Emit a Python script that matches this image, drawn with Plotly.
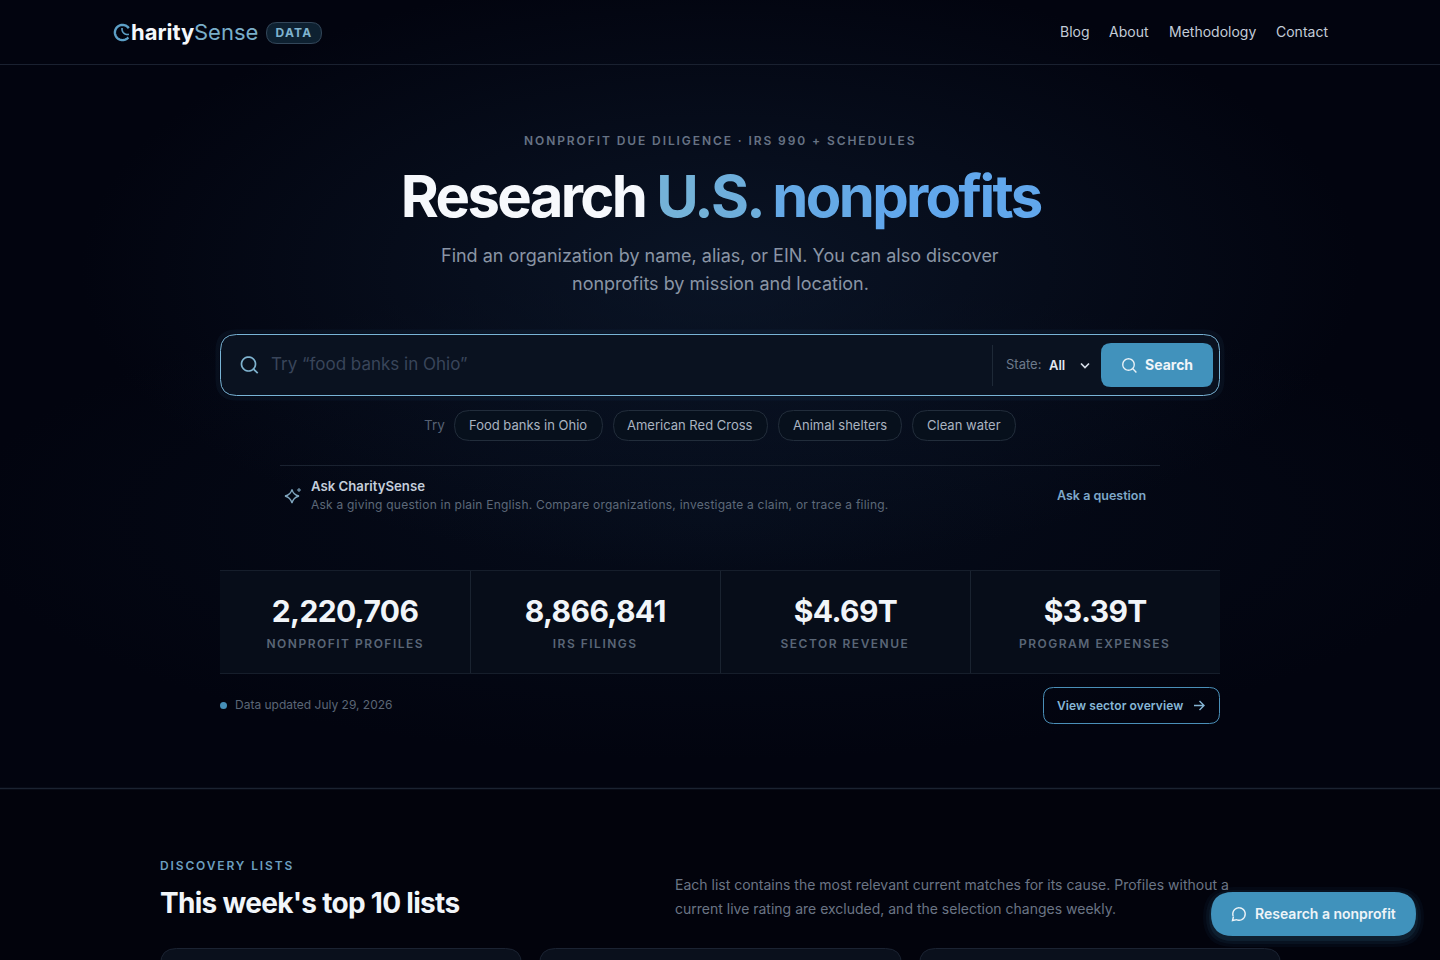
import json, math
import plotly.graph_objects as go

FONT = "Inter"
nav_links = ["Blog", "About", "Methodology", "Contact"]
nav_x = [1060, 1109, 1169, 1276]
chips = ["Food banks in Ohio", "American Red Cross", "Animal shelters", "Clean water"]
chip_left = [454.5, 613.5, 778.5, 912.5]
chip_right = [602.5, 767.5, 901.5, 1015.5]
stat_values = ["2,220,706", "8,866,841", "$4.69T", "$3.39T"]
stat_labels = ["NONPROFIT PROFILES", "IRS FILINGS", "SECTOR REVENUE", "PROGRAM EXPENSES"]
stat_centers = [345, 595, 845, 1095]

shapes, anns, spacing = [], [], []


def text(x, y, s, size, color, weight=400, anchor="left", ls=0):
    anns.append(dict(x=x, y=y - 1, xref="x", yref="y", text=s, showarrow=False,
                     xanchor=anchor, yanchor="middle", align=anchor,
                     borderpad=0, borderwidth=0,
                     font=dict(family=FONT, size=size, color=color, weight=weight)))
    spacing.append(ls)


def rrect(x0, y0, x1, y1, r):
    return (f"M{x0+r},{y0} L{x1-r},{y0} Q{x1},{y0} {x1},{y0+r} L{x1},{y1-r} Q{x1},{y1} {x1-r},{y1} "
            f"L{x0+r},{y1} Q{x0},{y1} {x0},{y1-r} L{x0},{y0+r} Q{x0},{y0} {x0+r},{y0} Z")


def box(x0, y0, x1, y1, r, fill="rgba(0,0,0,0)", line="rgba(0,0,0,0)", w=1):
    shapes.append(dict(type="path", xref="x", yref="y", path=rrect(x0, y0, x1, y1, r),
                       fillcolor=fill, line=dict(color=line, width=w), layer="above"))


def stroke(path, color, w=1.5, fill="rgba(0,0,0,0)"):
    shapes.append(dict(type="path", xref="x", yref="y", path=path, fillcolor=fill,
                       line=dict(color=color, width=w), layer="above"))


def hline(x0, x1, y, color, w=1):
    stroke(f"M{x0},{y} L{x1},{y}", color, w)


def arc(cx, cy, r, a0, a1, n=40):
    pts = []
    for i in range(n + 1):
        a = math.radians(a0 + (a1 - a0) * i / n)
        pts.append((cx + r * math.cos(a), cy + r * math.sin(a)))
    return "M" + " L".join(f"{x:.2f},{y:.2f}" for x, y in pts)


def search_icon(cx, cy, r, color, w):
    stroke(arc(cx, cy, r, 0, 360), color, w)
    d = r * 0.72
    stroke(f"M{cx+d},{cy+d} L{cx+r+2.2},{cy+r+2.2}", color, w)


# header
hline(0, 1440, 64.5, "#1a2130")
stroke(arc(122.5, 32.5, 7.6, 40, 325), "#5c9fc6", 2.4)
stroke(arc(127.5, 29, 5.5, 75, 190, 14), "#5c9fc6", 1.6)
text(131, 33, "harity", 22, "#f4f7fb", 700)
text(194, 33, "Sense", 22, "#79aec9", 400)
box(266.5, 22.5, 321.5, 43.5, 10.5, "#0e2131", "#33475a")
text(293.7, 33.8, "DATA", 12, "#7fb3cf", 700, "center", 1.2)
for s, x in zip(nav_links, nav_x):
    text(x, 32, s, 14, "#c3ccd8", 400, "left", 0)

# hero
text(720, 141, "NONPROFIT DUE DILIGENCE · IRS 990 + SCHEDULES", 12, "#677385", 600, "center", 1.91)
heading = ('<span style="color:#f6f8fc">Research</span> '
           '<span style="color:#74b2d8">U.</span><span style="color:#6eaedb">S.</span> '
           '<span style="color:#65a9e6">non</span><span style="color:#61a7ec">profits</span>')
text(720, 197, heading, 58, "#f6f8fc", 700, "center", -2.65)
text(720, 256, "Find an organization by name, alias, or EIN. You can also discover", 18, "#8a95a5", 400, "center", 0)
text(720, 284, "nonprofits by mission and location.", 18, "#8a95a5", 400, "center", 0)

# search box
box(217.5, 331.5, 1222.5, 398.5, 19, "rgba(0,0,0,0)", "rgba(90,160,205,0.06)", 4)
box(220.5, 334.5, 1219.5, 395.5, 16, "#0a1220", "#79b4d6", 1)
search_icon(248.5, 364, 7, "#7fb3cf", 1.7)
text(271, 365, "Try “food banks in Ohio”", 17, "#39455a", 400)
stroke("M992.5,345 L992.5,386", "#1e2937", 1)
text(1006, 365, "State:", 13, "#6d7a8b", 400)
text(1049, 366, "All", 13, "#e2e8f0", 600)
stroke("M1081,363.5 L1085,367.5 L1089,363.5", "#d6dee8", 1.7)
box(1101, 343, 1213, 387, 10, "#4192bc")
search_icon(1128.5, 364.5, 5.7, "#eaf2f7", 1.4)
text(1145, 365.5, "Search", 14, "#f1f5f9", 700)

# try chips
text(424, 426, "Try", 13.5, "#566173", 400)
for s, x0, x1 in zip(chips, chip_left, chip_right):
    box(x0, 410.5, x1, 440.5, 15, "#07101c", "#222d3b")
    text((x0 + x1) / 2 - 0.5, 426, s, 13, "#aab4c1", 400, "center")

# ask row
hline(280, 1160, 465.5, "#1a2230")
stroke("M292,489.5 Q293.3,495 299,496 Q293.3,497.5 292,503 Q290.5,497.5 285,496 Q290.5,495 292,489.5 Z", "#7fa6bf", 1.3)
stroke("M299,488 L299,492 M297,490 L301,490", "#7fa6bf", 1)
text(311, 487, "Ask CharitySense", 13.2, "#c4cedb", 600)
text(311, 505, "Ask a giving question in plain English. Compare organizations, investigate a claim, or trace a filing.", 12, "#5d6979", 400, "left", 0.22)
text(1146, 496.5, "Ask a question", 12.5, "#7fa8c9", 600, "right")

# stats
box(220, 570.5, 1220, 673.5, 0, "#070d19")
hline(220, 1220, 570.5, "#161e2b")
hline(220, 1220, 673.5, "#161e2b")
for x in (470.5, 720.5, 970.5):
    stroke(f"M{x},571 L{x},673", "#1a2330", 1)
for v, l, x in zip(stat_values, stat_labels, stat_centers):
    text(x, 611.5, v, 30, "#f1f5f9", 700, "center", -0.6)
    text(x, 644, l, 12, "#5a6677", 600, "center", 1.5)

# data updated
shapes.append(dict(type="circle", xref="x", yref="y", x0=220, x1=227, y0=702, y1=709,
                   fillcolor="#458fb8", line=dict(width=0), layer="above"))
text(235, 705, "Data updated July 29, 2026", 12, "#5b6676", 400)
box(1043.5, 687.5, 1219.5, 723.5, 10, "rgba(0,0,0,0)", "#4a8fb8")
text(1057, 706.5, "View sector overview", 12, "#86b6d6", 600, "left", 0.07)
stroke("M1194,705.5 L1204,705.5 M1199.5,701 L1204,705.5 L1199.5,710", "#86b6d6", 1.4)

# section
hline(0, 1440, 788.5, "#1b2331", 1.5)
text(160, 866, "DISCOVERY LISTS", 12, "#6c9fc0", 600, "left", 1.87)
text(160, 903.5, "This week's top 10 lists", 28, "#f1f5f9", 700, "left", -0.7)
text(675, 885, "Each list contains the most relevant current matches for its cause. Profiles without a", 14, "#6b7585", 400, "left", 0)
text(675, 909, "current live rating are excluded, and the selection changes weekly.", 14, "#6b7585", 400, "left", 0)
for x0, x1 in ((160.5, 521.5), (539.5, 901.5), (919.5, 1280.5)):
    box(x0, 948.5, x1, 985, 16, "#0a101c", "#1b2332")

# floating button
for g, a in ((8, 0.05), (5, 0.07), (2, 0.10)):
    box(1211 - g, 892 - g + 3, 1416 + g, 936 + g + 3, 22 + g, f"rgba(65,146,188,{a})")
box(1211, 892, 1416, 936, 22, "#4092bc")
stroke(arc(1239, 914, 6.2, -200, 110), "#eef4f8", 1.4)
stroke("M1233.5,916.5 L1232.5,920.5 L1237,919.6", "#eef4f8", 1.4)
text(1255, 914.5, "Research a nonprofit", 14, "#eef4f8", 600)

fig = go.Figure(go.Scatter(x=[], y=[]))
fig.update_layout(
    width=1440, height=960, autosize=False, margin=dict(l=0, r=0, t=0, b=0, pad=0),
    paper_bgcolor="rgba(0,0,0,0)", plot_bgcolor="rgba(0,0,0,0)", showlegend=False,
    xaxis=dict(range=[0, 1440], visible=False, fixedrange=True),
    yaxis=dict(range=[960, 0], visible=False, fixedrange=True),
    shapes=shapes, annotations=anns,
)

post = """
document.documentElement.style.background='#02040f';
document.body.style.margin='0';
document.body.style.overflow='hidden';
document.body.style.background=
 'radial-gradient(ellipse 640px 300px at 720px 270px, rgba(16,32,54,0.58), rgba(16,32,54,0) 100%),' +
 'radial-gradient(ellipse 760px 240px at 720px 520px, rgba(10,22,40,0.45), rgba(10,22,40,0) 100%),' +
 'linear-gradient(#02040f 0, #02040f 789px, #02030c 789px)';
var LS = __LS__;
document.querySelectorAll('.annotation').forEach(function(a){
  var i = +a.getAttribute('data-index');
  if (LS[i]) { a.querySelectorAll('text').forEach(function(t){ t.style.letterSpacing = LS[i] + 'px'; }); }
});
""".replace("__LS__", json.dumps(spacing))

fig.write_html("out.html", post_script=post, config=dict(displayModeBar=False, responsive=False))
